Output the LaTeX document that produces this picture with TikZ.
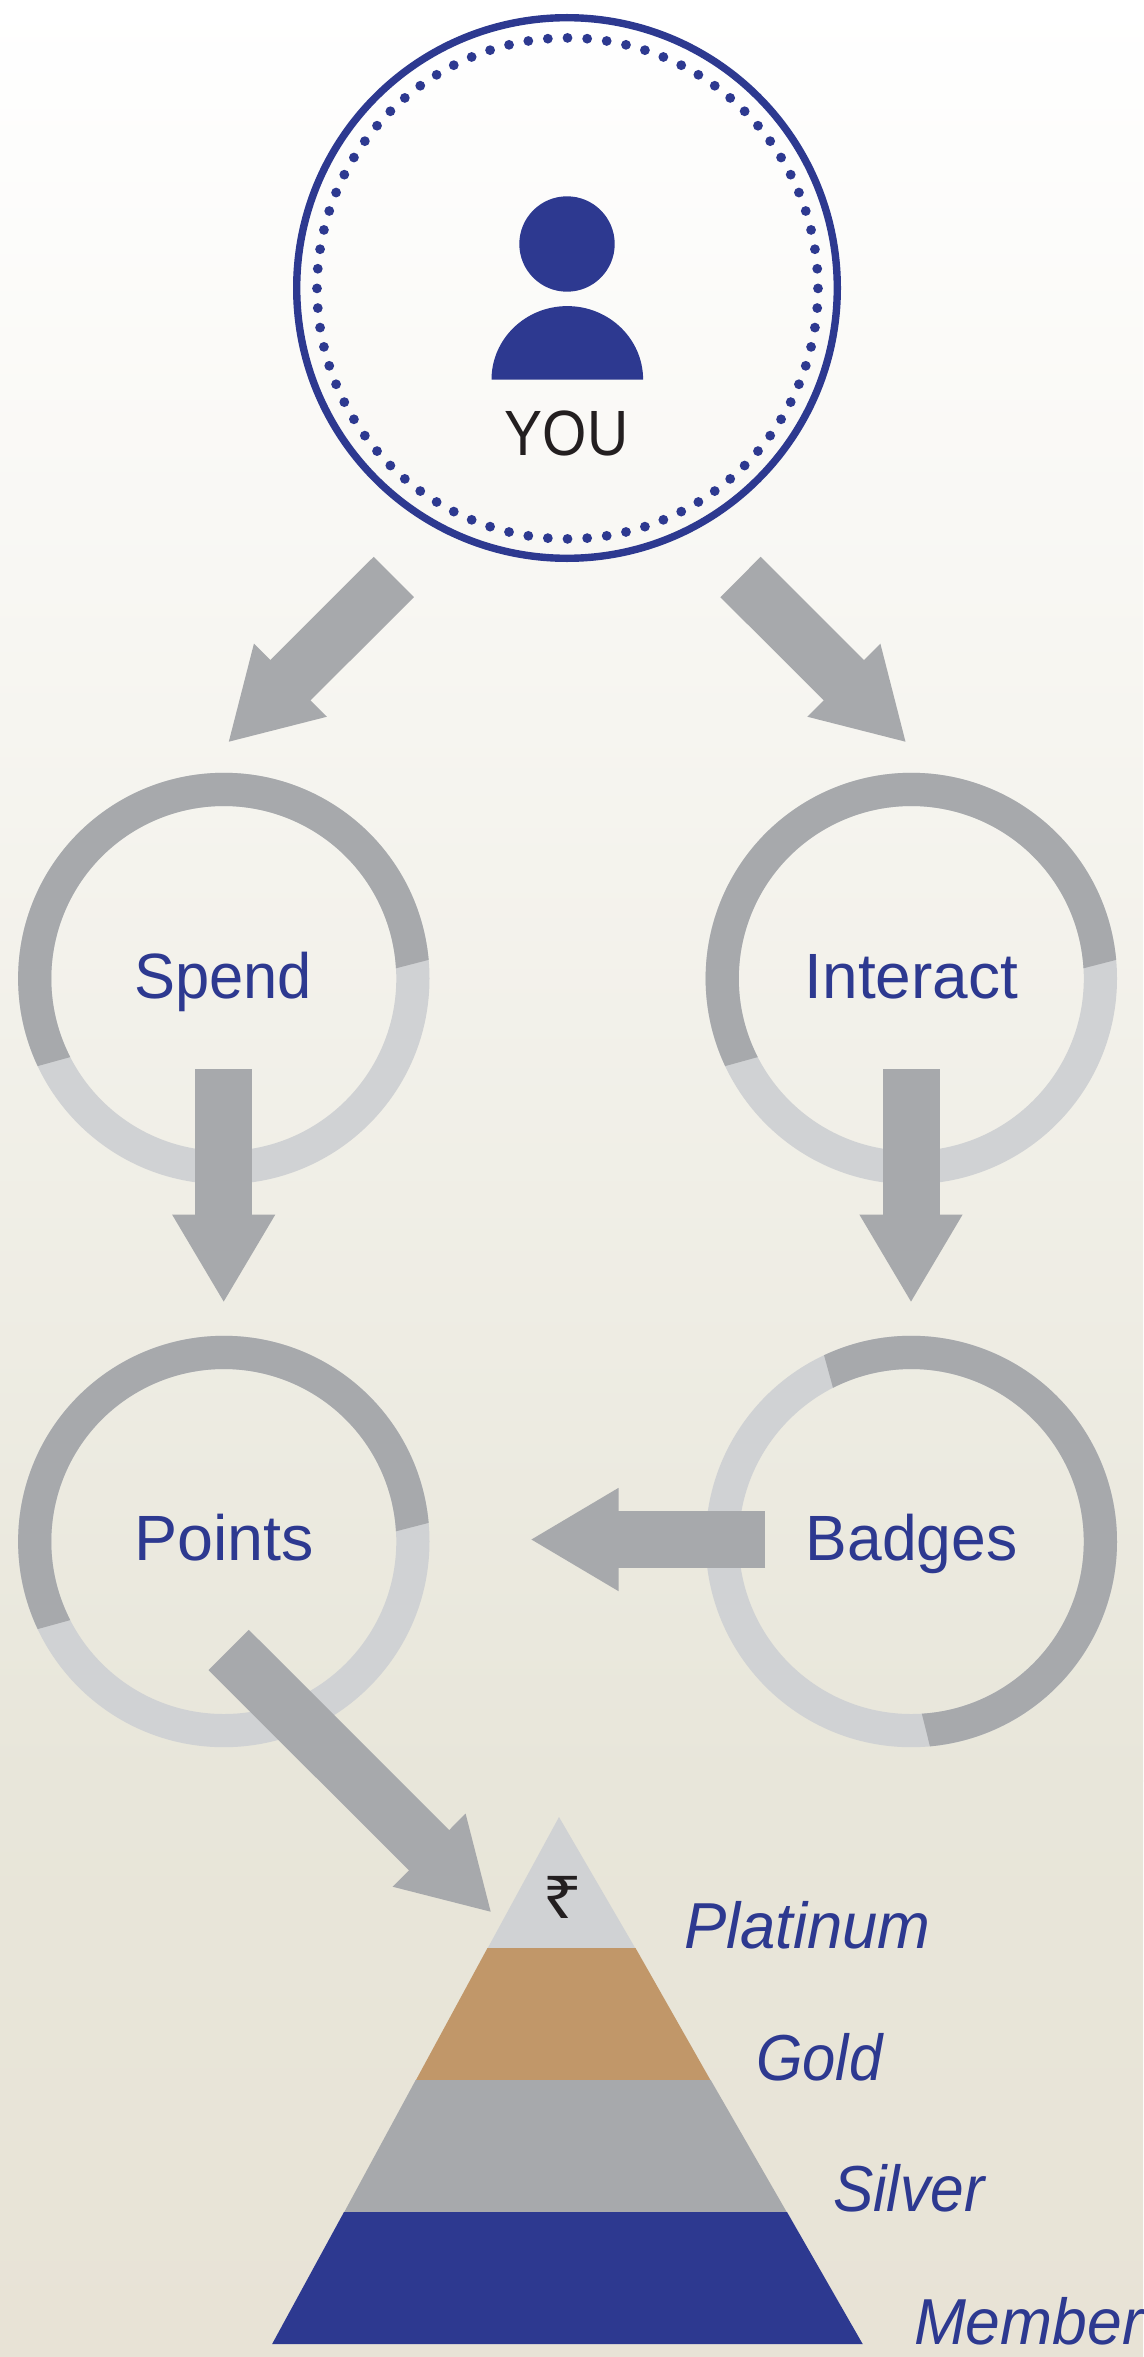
\documentclass[tikz,border=0pt]{standalone}
\usepackage{fontspec}
\usetikzlibrary{arrows.meta,calc}
\setmainfont{Liberation Sans}
\newfontfamily\rupeefont{Noto Sans}
\definecolor{brandblue}{HTML}{2D3990}
\definecolor{darkgrey}{HTML}{A7A9AC}
\definecolor{lightgrey}{HTML}{D0D2D4}
\definecolor{goldtier}{HTML}{C19769}
\definecolor{inkblack}{HTML}{231F20}
\definecolor{bga}{HTML}{FFFFFF}
\definecolor{bgb}{HTML}{F8F7F3}
\definecolor{bgc}{HTML}{E8E6DA}
\definecolor{bgd}{HTML}{E8E3D6}
\tikzset{
  lbl/.style={anchor=base,inner sep=0pt,outer sep=0pt,text=brandblue,font=\fontsize{64}{64}\selectfont},
  tierlbl/.style={anchor=base west,inner sep=0pt,outer sep=0pt,text=brandblue,font=\fontsize{65}{65}\selectfont\itshape},
  bigarrow/.style={draw=darkgrey,line width=57pt,-{Triangle[length=88.5pt,width=96.5pt]}},
  ringbase/.style={draw=lightgrey,line width=33.2pt},
  ringarc/.style={fill=darkgrey,draw=none},
}
% centre x, centre y, outer start, inner start, outer end, inner end
\newcommand{\ringshape}[6]{%
  \draw[ringbase] (#1,#2) circle[radius=189.1];
  \begin{scope}[shift={(#1,#2)}]
    \fill[ringarc] (#3:205.7) arc[start angle=#3,end angle=#5,radius=205.7]
      -- (#6:172.5) arc[start angle=#6,end angle=#4,radius=172.5] -- cycle;
  \end{scope}}
\begin{document}
\begin{tikzpicture}[x=1pt,y=1pt]
\useasboundingbox (0,0) rectangle (1143,-2357);
\clip (0,0) rectangle (1143,-2357);
% background
\shade[top color=bga,bottom color=bgb] (0,0) rectangle (1143,-581);
\shade[top color=bgb,bottom color=bgc] (0,-580) rectangle (1143,-1781);
\shade[top color=bgc,bottom color=bgd] (0,-1780) rectangle (1143,-2357);
% YOU badge
\draw[brandblue,line width=7.4pt] (567,-288) circle[radius=270.3];
\foreach \a in {0,4.5,...,355.5}{
  \fill[brandblue] ($(567.5,-288.4)+(\a:250.5)$) circle[radius=4.9];
}
\fill[brandblue] (567,-244) circle[radius=47.7];
\fill[brandblue] (491.5,-379.6) arc[start angle=180,end angle=0,x radius=75.8,y radius=73.5] -- cycle;
\node[lbl,text=inkblack] (you) at (566.5,-455) {\scalebox{.89}[1]{YOU}};
% rings
\ringshape{223.8}{-978.5}{5.2}{3.4}{205.2}{207.1}
\ringshape{911.3}{-978.5}{5.2}{3.4}{205.2}{207.1}
\ringshape{223.8}{-1541.5}{5.2}{3.4}{205.2}{207.1}
\ringshape{911.3}{-1541.5}{115.1}{117}{-84.8}{-86.5}
\node[lbl] (spend) at (223,-998) {\scalebox{.96}[1]{Spend}};
\node[lbl] (interact) at (911.5,-998) {\scalebox{1.0}[1]{Interact}};
\node[lbl] (points) at (224,-1560) {\scalebox{1.01}[1]{Points}};
\node[lbl] (badges) at (911.5,-1560) {\scalebox{.975}[1]{Badges}};
% arrow end points
\coordinate (a1s) at (393.8,-577);   \coordinate (a1e) at (227.8,-742.7);
\coordinate (a2s) at (740.5,-577);   \coordinate (a2e) at (906.5,-742.7);
\coordinate (a3s) at (223.7,-1069);  \coordinate (a3e) at (223.7,-1303);
\coordinate (a4s) at (911,-1069);    \coordinate (a4e) at (911,-1303);
\coordinate (a5s) at (765.3,-1539.5);\coordinate (a5e) at (530,-1539.5);
\coordinate (a6s) at (228.7,-1650);  \coordinate (a6e) at (491.7,-1912.7);
\foreach \i in {1,...,6}{ \draw[bigarrow] (a\i s) -- (a\i e); }
% pyramid
\fill[lightgrey] (559,-1817) -- (635.5,-1948.5) -- (487.5,-1948.5) -- cycle;
\fill[goldtier] (487.5,-1948) -- (635.5,-1948) -- (710.7,-2080.5) -- (415.7,-2080.5) -- cycle;
\fill[darkgrey] (415.7,-2080) -- (710.7,-2080) -- (787,-2212.5) -- (344,-2212.5) -- cycle;
\fill[brandblue] (344,-2212) -- (787,-2212) -- (862.8,-2344.2) -- (272,-2344.2) -- cycle;
\node[anchor=base,inner sep=0pt,text=inkblack,font=\fontsize{59}{59}\rupeefont] (rupee) at (563,-1918) {\scalebox{1.2}[1]{₹}};
% tier labels
\node[tierlbl] (platinum) at (684,-1948) {\scalebox{.975}[1]{Platinum}};
\node[tierlbl] (gold) at (756,-2080) {\scalebox{.92}[1]{Gold}};
\node[tierlbl] (silver) at (833,-2211) {\scalebox{.93}[1]{Silver}};
\node[tierlbl] (member) at (914,-2344) {\scalebox{.96}[1]{Member}};
\end{tikzpicture}
\end{document}
